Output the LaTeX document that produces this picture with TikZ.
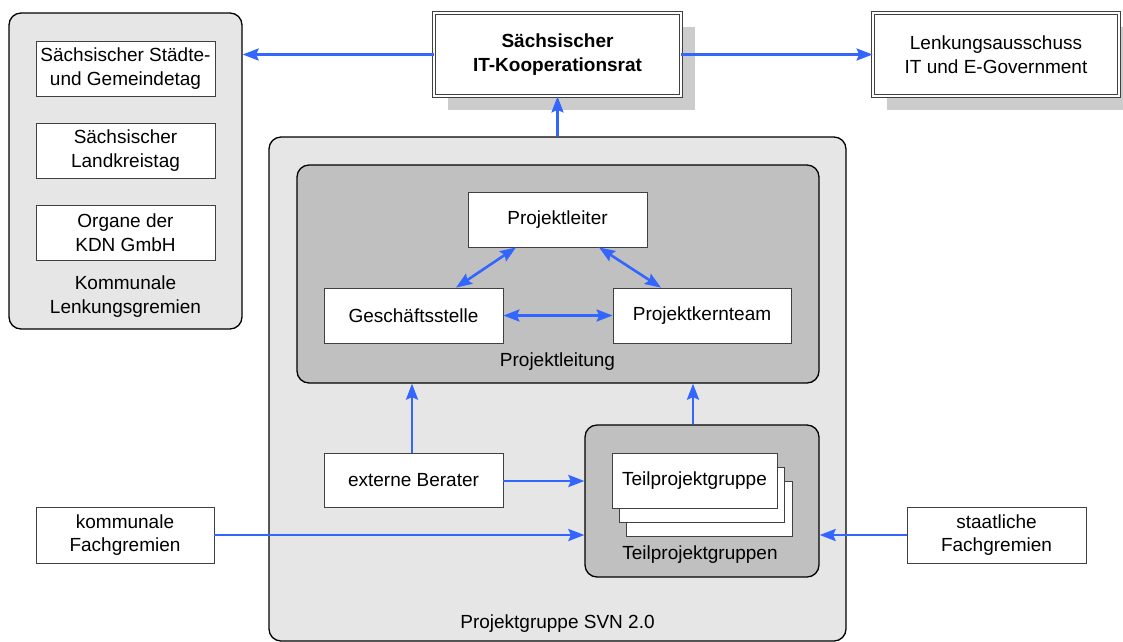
\documentclass[tikz,border=0pt]{standalone}
\usepackage{fontspec}
\setmainfont{Liberation Sans}
\usetikzlibrary{arrows.meta,shadows}

\definecolor{linkblue}{RGB}{51,102,255}
\definecolor{groupfill}{RGB}{230,230,230}
\definecolor{teamfill}{RGB}{192,192,192}
\definecolor{shadowgray}{RGB}{204,204,204}
\definecolor{boxline}{RGB}{64,64,64}

\tikzset{
  every node/.style={font=\fontsize{19}{23.5}\selectfont, align=center, inner sep=0pt},
  whitebox/.style={draw=boxline, line width=0.8pt, fill=white},
  group/.style={draw=black, line width=1.3pt, rounded corners=12pt, fill=groupfill},
  team/.style={draw=black, line width=1.3pt, rounded corners=12pt, fill=teamfill},
  headbox/.style={draw=boxline, fill=white, line width=0.8pt, double=white,
    double distance=2pt,
    drop shadow={shadow xshift=14pt, shadow yshift=-14pt, fill=shadowgray, opacity=1}},
  tip/.tip={Stealth[length=16pt,width=12pt,inset=2.5pt]},
  link/.style={draw=linkblue, line width=2.6pt, -tip},
  duplink/.style={draw=linkblue, line width=2.6pt, tip-tip},
  label/.style={fill=none, draw=none}
}

\begin{document}
\begin{tikzpicture}[x=1pt, y=-1pt]
\useasboundingbox (0,0) rectangle (1123,641);

% municipal steering bodies (left column)
\node[group, minimum width=233, minimum height=316] (lg) at (125.5,171) {};
\node[whitebox, minimum width=179, minimum height=55] (sgt) at (125.5,68.5) {Sächsischer Städte-\\und Gemeindetag};
\node[whitebox, minimum width=179, minimum height=55] (lkt) at (125.5,150.5) {Sächsischer\\Landkreistag};
\node[whitebox, minimum width=179, minimum height=55] (kdn) at (125.5,232.5) {Organe der\\KDN GmbH};
\node[label] (lglabel) at (125.5,296.5) {Kommunale\\Lenkungsgremien};

% top-level councils
\node[headbox, minimum width=247, minimum height=83] (itk) at (557.5,54.5) {\bfseries Sächsischer\\\bfseries IT-Kooperationsrat};
\node[headbox, minimum width=246, minimum height=83] (lea) at (996,54.5) {Lenkungsausschuss\\IT und E-Government};

% project group
\node[group, minimum width=577, minimum height=504] (pg) at (557.5,389) {};
\node[label] (pglabel) at (557.5,624) {Projektgruppe SVN 2.0};

% project management
\node[team, minimum width=522, minimum height=218] (pl) at (558,274) {};
\node[label] (pllabel) at (557.5,362) {Projektleitung};
\node[whitebox, minimum width=179, minimum height=55] (leiter) at (557.5,219.5) {Projektleiter};
\node[whitebox, minimum width=179, minimum height=55] (gs) at (413.5,315.5) {Geschäftsstelle};
\node[whitebox, minimum width=178, minimum height=55] (pkt) at (702,315.5) {Projektkernteam};

% sub-project groups
\node[whitebox, minimum width=179, minimum height=54] (eb) at (413.5,480) {externe Berater};
\node[team, minimum width=234, minimum height=152] (tpg) at (702,501) {};
\node[label] (tpglabel) at (700,555) {Teilprojektgruppen};
\node[whitebox, minimum width=166, minimum height=55] (card1) at (709,508.5) {};
\node[whitebox, minimum width=165, minimum height=55] (card2) at (701.5,494.5) {};
\node[whitebox, minimum width=165, minimum height=55] (card3) at (694.5,480.5) {Teilprojektgruppe};

% expert committees
\node[whitebox, minimum width=178, minimum height=56] (kf) at (125,535) {kommunale\\Fachgremien};
\node[whitebox, minimum width=179, minimum height=56] (sf) at (996.5,535) {staatliche\\Fachgremien};

% connectors
\draw[link] (itk.west) -- (itk.west -| lg.east);
\draw[link] (itk.east) -- (lea.west);
\draw[link] (pg.north) -- (itk.south);
\draw[duplink] ([xshift=42.5pt]gs.north) -- ([xshift=-41.5pt]leiter.south);
\draw[duplink] ([xshift=41.5pt]leiter.south) -- ([xshift=-41pt]pkt.north);
\draw[duplink] (gs.east) -- (pkt.west);
\draw[link] ([xshift=-1.5pt]eb.north) -- ([xshift=-1.5pt]eb.north |- pl.south);
\draw[link] ([yshift=-1pt]eb.east) -- ([yshift=-1pt]eb.east -| tpg.west);
\draw[link] ([xshift=-9pt]tpg.north) -- ([xshift=-9pt]tpg.north |- pl.south);
\draw[link] (kf.east) -- (kf.east -| tpg.west);
\draw[link] (sf.west) -- (sf.west -| tpg.east);
\end{tikzpicture}
\end{document}
